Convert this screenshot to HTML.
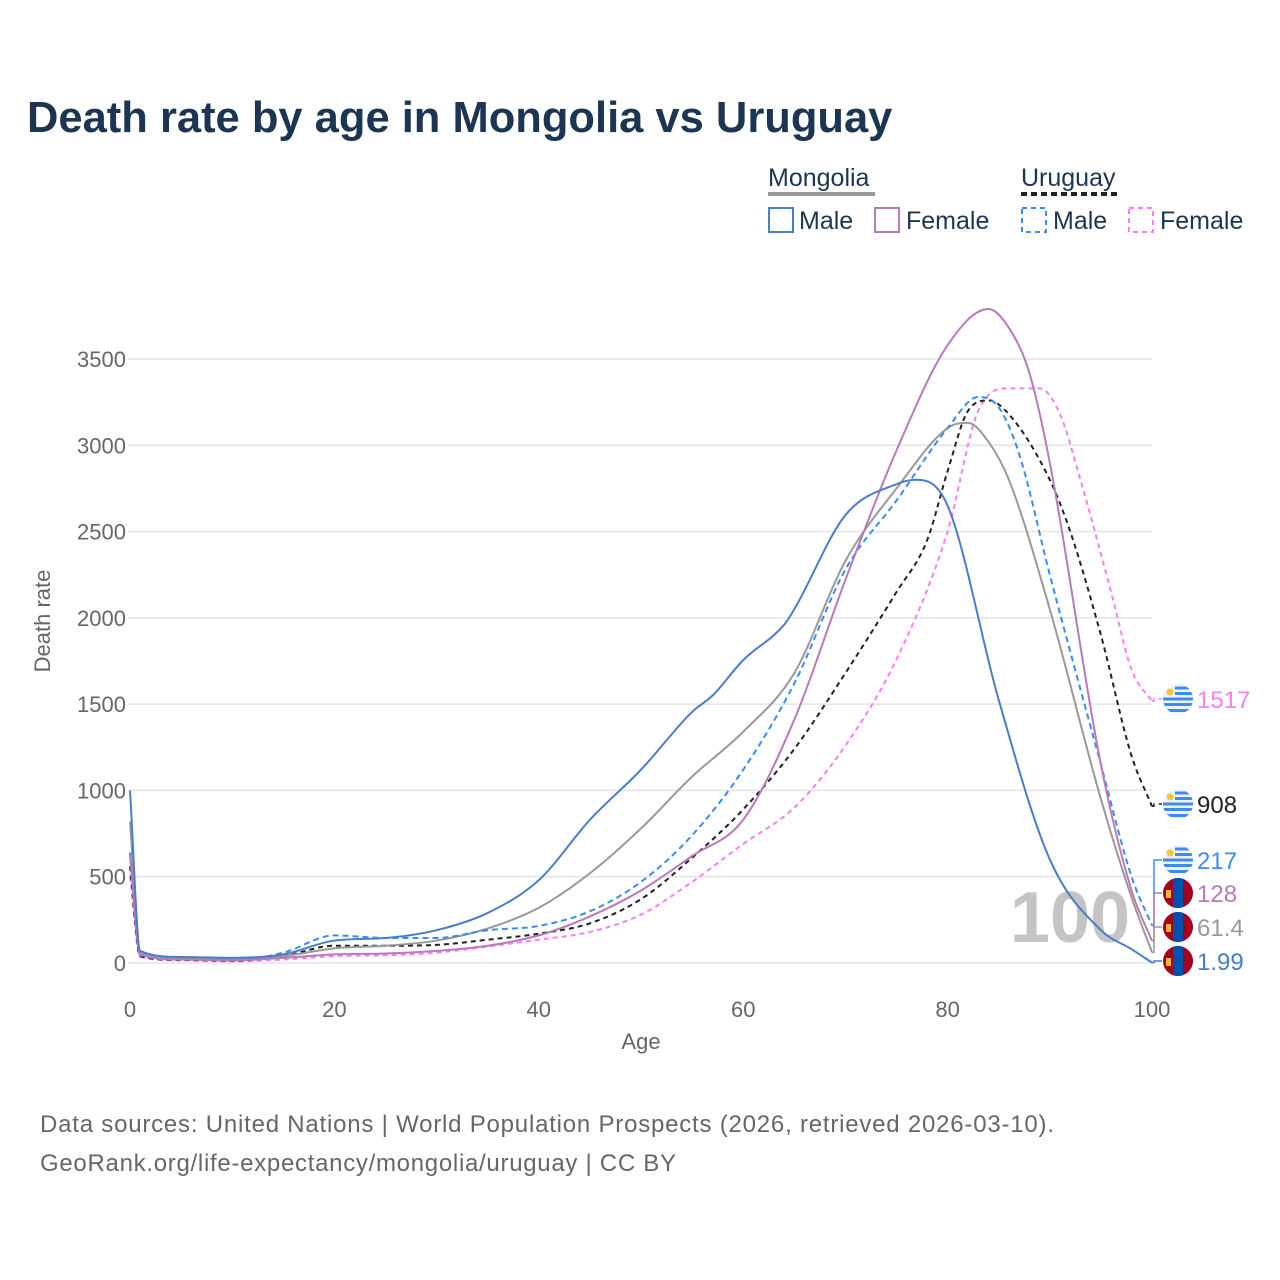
<!DOCTYPE html>
<html><head><meta charset="utf-8"><style>
body{margin:0;background:#fff;font-family:"Liberation Sans",sans-serif}
svg{display:block}
</style></head><body>
<svg id="c" width="1280" height="1280" viewBox="0 0 1280 1280" xmlns="http://www.w3.org/2000/svg">
<defs id="defs"></defs>
<text x="27" y="132" font-size="43.5" font-weight="bold" fill="#1c3553">Death rate by age in Mongolia vs Uruguay</text>
<g font-size="25" fill="#1c3553">
<text x="768" y="186">Mongolia</text>
<line x1="768" y1="194" x2="875" y2="194" stroke="#999" stroke-width="4"/>
<rect x="769" y="208" width="24" height="24" fill="none" stroke="#4a7cc9" stroke-width="2"/>
<text x="799" y="229">Male</text>
<rect x="875" y="208" width="24" height="24" fill="none" stroke="#b87ab8" stroke-width="2"/>
<text x="906" y="229">Female</text>
<text x="1021" y="186">Uruguay</text>
<line x1="1021" y1="194" x2="1119" y2="194" stroke="#222" stroke-width="4" stroke-dasharray="6,4"/>
<rect x="1022" y="208" width="24" height="24" fill="none" stroke="#3a8cf5" stroke-width="2" stroke-dasharray="5,4"/>
<text x="1053" y="229">Male</text>
<rect x="1129" y="208" width="24" height="24" fill="none" stroke="#f97ef0" stroke-width="2" stroke-dasharray="5,4"/>
<text x="1160" y="229">Female</text>
</g>
<g id="grid"></g>
<text x="1070" y="942" font-size="72" font-weight="bold" fill="#c4c4c4" text-anchor="middle">100</text>
<g id="lines"></g>
<g id="ends"></g>
<text x="641" y="1049" font-size="22" fill="#666" text-anchor="middle">Age</text>
<text x="50" y="621" font-size="22" fill="#666" text-anchor="middle" transform="rotate(-90 50 621)">Death rate</text>
<text x="40" y="1132" font-size="24" fill="#666" textLength="1014">Data sources: United Nations | World Population Prospects (2026, retrieved 2026-03-10).</text>
<text x="40" y="1171" font-size="24" fill="#666" textLength="636">GeoRank.org/life-expectancy/mongolia/uruguay | CC BY</text>
</svg>
<script>
const yTicks=[0,500,1000,1500,2000,2500,3000,3500];
const xTicks=[0,20,40,60,80,100];
const mnMaleAges=[0,1,5,10,15,20,25,30,35,40,45,50,55,57,60,64,65,70,75,77,80,85,90,95,98,100];
const mnMaleVals=[1000,70,35,30,50,130,145,190,290,480,830,1120,1455,1550,1755,1960,2050,2595,2775,2800,2650,1525,600,190,80,2];
const mnFemaleAges=[0,1,5,10,15,20,25,30,35,40,45,50,55,60,65,70,75,80,84,86,88,90,95,98,100];
const mnFemaleVals=[620,50,20,15,30,50,55,70,100,160,270,420,620,830,1410,2220,2970,3580,3790,3680,3420,2900,1150,420,128];
const mnTotalAges=[0,1,5,10,15,20,25,30,35,40,45,50,55,60,65,70,75,80,82,84,86,90,95,98,100];
const mnTotalVals=[820,60,28,22,40,85,100,130,200,320,520,780,1080,1340,1680,2330,2750,3100,3130,3020,2800,2050,950,380,61.4];
const uyMaleAges=[0,1,5,10,15,20,25,30,35,40,45,50,55,60,65,70,75,80,83,85,87,90,95,98,100];
const uyMaleVals=[640,45,20,15,60,160,145,145,190,215,300,470,740,1120,1620,2280,2680,3100,3280,3220,2950,2250,1150,500,217];
const uyTotalAges=[0,1,5,10,15,20,25,30,35,40,45,50,55,60,65,70,75,78,80,82,84,86,90,92,95,98,100];
const uyTotalVals=[560,40,18,12,40,100,100,105,135,170,230,370,610,890,1240,1680,2150,2450,2850,3200,3260,3180,2800,2500,1900,1200,908];
const uyFemaleAges=[0,1,5,10,15,20,25,30,35,40,45,50,55,60,65,70,75,80,83,86,89,91,93,96,98,100];
const uyFemaleVals=[500,35,15,10,20,40,45,60,95,135,180,280,470,690,900,1260,1760,2500,3200,3330,3330,3180,2800,2150,1700,1517];
const NS='http://www.w3.org/2000/svg';
const X=a=>130+a*10.22, Y=v=>963-v*0.17257;
function el(t,at,p){const e=document.createElementNS(NS,t);for(const k in at)e.setAttribute(k,at[k]);p.appendChild(e);return e;}
const grid=document.getElementById('grid');
yTicks.forEach(v=>{
 const l=el('line',{x1:128,x2:1152,y1:Y(v),y2:Y(v),stroke:'#e4e4e4','stroke-width':1.5},grid);
 
 
 const t=el('text',{x:126,y:Y(v)+8,'font-size':22,fill:'#666','text-anchor':'end'},grid);t.textContent=v;
 
 
});
xTicks.forEach(a=>{
 const t=el('text',{x:X(a),y:1017,'font-size':22,fill:'#666','text-anchor':'middle'},grid);t.textContent=a;
 
 
});
function path(ages,vals){
 const x=ages.map(X),y=vals.map(Y),n=x.length;
 const d=[],m=[];for(let i=0;i<n-1;i++)d.push((y[i+1]-y[i])/(x[i+1]-x[i]));
 m[0]=d[0];m[n-1]=d[n-2];
 for(let i=1;i<n-1;i++){m[i]=(d[i-1]*d[i]<=0)?0:(d[i-1]+d[i])/2;}
 for(let i=0;i<n-1;i++){if(d[i]===0){m[i]=0;m[i+1]=0;continue;}
  const a=m[i]/d[i],b=m[i+1]/d[i],s=a*a+b*b;if(s>9){const t=3/Math.sqrt(s);m[i]=t*a*d[i];m[i+1]=t*b*d[i];}}
 let p='M'+x[0]+','+y[0];
 for(let i=0;i<n-1;i++){const h=(x[i+1]-x[i])/3;
  p+=` C${x[i]+h},${y[i]+m[i]*h} ${x[i+1]-h},${y[i+1]-m[i+1]*h} ${x[i+1]},${y[i+1]}`;}
 return p;}
const lines=document.getElementById('lines');
const series=[
 ['uruguay-female',uyFemaleAges,uyFemaleVals,'#f97ef0','5,4'],
 ['uruguay-total',uyTotalAges,uyTotalVals,'#222','5,4'],
 ['mongolia-total',mnTotalAges,mnTotalVals,'#999',''],
 ['uruguay-male',uyMaleAges,uyMaleVals,'#3a8cf5','6,4'],
 ['mongolia-female',mnFemaleAges,mnFemaleVals,'#b87ab8',''],
 ['mongolia-male',mnMaleAges,mnMaleVals,'#4a7cc9',''],
];
series.forEach(s=>{
 const p=el('path',{d:path(s[1],s[2]),fill:'none',stroke:s[3],'stroke-width':2,'stroke-dasharray':s[4]},lines);
 
 
});
const ends=document.getElementById('ends');
const defs=document.getElementById('defs');
const endLabels=[
 ['uruguay-female',uyFemaleVals,'#f97ef0','1517',699,'uy','5,4'],
 ['uruguay-total',uyTotalVals,'#222','908',804,'uy','5,4'],
 ['uruguay-male',uyMaleVals,'#3a8cf5','217',860,'uy',''],
 ['mongolia-female',mnFemaleVals,'#b87ab8','128',893,'mn',''],
 ['mongolia-total',mnTotalVals,'#999','61.4',927,'mn',''],
 ['mongolia-male',mnMaleVals,'#4a7cc9','1.99',961,'mn',''],
];
endLabels.forEach((e,i)=>{
 const yv=Y(e[1][e[1].length-1]);
 el('path',{d:`M1152,${yv} L1154,${yv} L1154,${e[4]} L1162,${e[4]}`,fill:'none',stroke:e[2],'stroke-width':1.5,'stroke-dasharray':e[6]},ends);
 const cx=1178,cy=e[4],r=15;
 const cp=el('clipPath',{id:'fc'+i},defs);el('circle',{cx,cy,r},cp);
 const g=el('g',{'clip-path':'url(#fc'+i+')'},ends);
 
 
 if(e[5]=='uy'){
  el('rect',{x:cx-r,y:cy-r,width:2*r,height:2*r,fill:'#f2f2f2'},g);
  [-1,0,1,2].forEach(k=>el('rect',{x:cx-r+(k<1?12:0),y:cy-7+k*5.5,width:2*r,height:3,fill:'#3a8cf5'},g));
  el('rect',{x:cx-r,y:cy+10,width:2*r,height:3,fill:'#3a8cf5'},g);
  el('circle',{cx:cx-8,cy:cy-7,r:3.5,fill:'#f7c836'},g);
 }else{
  el('rect',{x:cx-r,y:cy-r,width:2*r,height:2*r,fill:'#a3001d'},g);
  el('rect',{x:cx-5,y:cy-r,width:10,height:2*r,fill:'#0050b4'},g);
  el('rect',{x:cx-12,y:cy-3,width:5,height:8,fill:'#f7b731'},g);
 }
 const t=el('text',{x:1197,y:e[4]+9,'font-size':24,fill:e[2]},ends);t.textContent=e[3];
 
 
});
</script>
</body></html>
